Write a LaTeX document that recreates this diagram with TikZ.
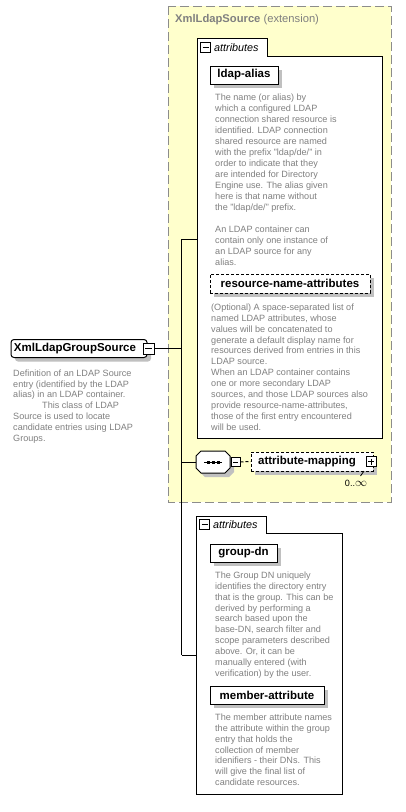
\documentclass[tikz,border=0pt]{standalone}
\usepackage{fontspec}
\setmainfont{Liberation Sans}
\usetikzlibrary{shadows}
\definecolor{ylw}{RGB}{255,255,204}
\definecolor{txtgray}{RGB}{128,128,128}
\definecolor{shd}{RGB}{192,192,192}
\definecolor{extborder}{RGB}{140,140,140}
\tikzset{
  desc/.style={anchor=north west, inner sep=0pt, align=left, text=txtgray,
    font=\fontsize{9.1}{10.9}\selectfont},
  shadowed/.style={drop shadow={shadow xshift=4pt, shadow yshift=-4pt, fill=shd, opacity=1}},
  attrbox/.style={draw, fill=white, line width=1pt, inner sep=0pt, shadowed,
    font=\fontsize{11.5}{13}\selectfont\bfseries},
  optbox/.style={attrbox, dash pattern=on 3pt off 2pt},
  lbltext/.style={inner sep=0pt, font=\fontsize{11.5}{13}\selectfont\bfseries},
  tabtext/.style={anchor=west, inner sep=0pt, font=\fontsize{10.8}{12}\selectfont\itshape},
  folder/.style={draw, fill=white, line width=1pt},
  conn/.style={draw, line width=1pt},
  mbox/.style={draw, fill=white, line width=1pt, minimum size=#1, inner sep=0pt,
    path picture={\draw[line width=1pt] ([xshift=2pt]path picture bounding box.west) -- ([xshift=-2pt]path picture bounding box.east);}},
  mbox/.default=10pt,
  pbox/.style={mbox=#1,
    path picture={\draw[line width=1pt] ([xshift=2pt]path picture bounding box.west) -- ([xshift=-2pt]path picture bounding box.east);
                  \draw[line width=1pt] ([yshift=-2pt]path picture bounding box.north) -- ([yshift=2pt]path picture bounding box.south);}},
  pbox/.default=10pt
}
\begin{document}
\begin{tikzpicture}[x=1pt,y=-1pt]
\useasboundingbox[fill=white] (0,0) rectangle (406,812);

% extension (yellow) region
\draw[fill=ylw, draw=extborder, line width=1pt, dash pattern=on 9pt off 4pt] (168,6) rectangle (391,502);
\node[anchor=west, inner sep=0pt, text=txtgray, font=\fontsize{11.2}{13}\selectfont] (exttitle) at (175,20)
  {\textbf{XmlLdapSource} (extension)};

% upper attributes folder
\draw[folder] (197,38) -- (267,38) -- (267,56) -- (382,56) -- (382,438) -- (197,438) -- cycle;
\node[mbox] (m1) at (205.5,47.5) {};
\node[tabtext] (tab1) at (214,47.5) {attributes};
\coordinate (a1w) at (197,239);

\node[attrbox, minimum width=68pt, minimum height=18pt] (ldapalias) at (244,75) {};
\node[lbltext] at (ldapalias) {ldap-alias};
\node[desc, font=\fontsize{9.1}{11}\selectfont] (d1) at (215,93.3) {The name (or alias) by\\
which a configured LDAP\\
connection shared resource is\\
identified. LDAP connection\\
shared resource are named\\
with the prefix "ldap/de/" in\\
order to indicate that they\\
are intended for Directory\\
Engine use. The alias given\\
here is that name without\\
the "ldap/de/" prefix.\\[11pt]
An LDAP container can\\
contain only one instance of\\
an LDAP source for any\\
alias.};

\node[optbox, minimum width=160pt, minimum height=19pt] (rna) at (290,283.5) {};
\node[lbltext] at (rna) {resource-name-attributes};
\node[desc] (d2) at (211,303.5) {(Optional) A space-separated list of\\
named LDAP attributes, whose\\
values will be concatenated to\\
generate a default display name for\\
resources derived from entries in this\\
LDAP source.\\
When an LDAP container contains\\
one or more secondary LDAP\\
sources, and those LDAP sources also\\
provide resource-name-attributes,\\
those of the first entry encountered\\
will be used.};

% sequence compositor
\fill[shd] (205,455) -- (229,455) -- (234,460) -- (234,472) -- (229,477) -- (205,477) -- (200,472) -- (200,460) -- cycle;
\draw[fill=white, line width=1pt] (201,451) -- (225,451) -- (230,456) -- (230,468) -- (225,473) -- (201,473) -- (196,468) -- (196,456) -- cycle;
\node[minimum width=34pt, minimum height=22pt, inner sep=0pt] (seq) at (213,462) {};
\draw[line width=1pt] (204,462) -- (222,462);
\foreach \dx in {208,213,218} \fill (\dx-1.5,460.5) rectangle (\dx+1.5,463.5);
\node[mbox=9pt] (seqm) at (235.5,462) {};

\node[optbox, minimum width=122pt, minimum height=19pt] (amap) at (312,461.5) {};
\node[lbltext] at (307,461.5) {attribute-mapping};
\node[pbox] (ampp) at (371,461.5) {};
\draw[line width=0.8pt] (364,471) -- (360.5,476);
\node[inner sep=0pt, font=\fontsize{9.1}{11}\selectfont] (card) at (356,483) {0..{\fontsize{12}{12}\selectfont$\infty$}};

% left root element
\node[draw, fill=white, line width=1pt, rounded corners=3pt, minimum width=136pt, minimum height=18pt, inner sep=0pt, shadowed] (lgs) at (79,348.5) {};
\node[lbltext] (lgst) at (75,348.5) {XmlLdapGroupSource};
\node[mbox=11pt] (lgsm) at (148.5,348.5) {};
\node[desc] (d0) at (13,369.3) {Definition of an LDAP Source\\
entry (identified by the LDAP\\
alias) in an LDAP container.\\
\hspace*{29pt}This class of LDAP\\
Source is used to locate\\
candidate entries using LDAP\\
Groups.};

% lower attributes folder
\draw[folder] (196,516) -- (266,516) -- (266,533) -- (342,533) -- (342,794) -- (196,794) -- cycle;
\node[mbox] (m2) at (204.5,524.5) {};
\node[tabtext] (tab2) at (213,524.5) {attributes};
\coordinate (a2w) at (196,655);

\node[attrbox, minimum width=67pt, minimum height=18pt] (gdn) at (243.5,553) {};
\node[lbltext] at (gdn) {group-dn};
\node[desc] (d3) at (215,571.5) {The Group DN uniquely\\
identifies the directory entry\\
that is the group. This can be\\
derived by performing a\\
search based upon the\\
base-DN, search filter and\\
scope parameters described\\
above. Or, it can be\\
manually entered (with\\
verification) by the user.};

\node[attrbox, minimum width=114pt, minimum height=18pt] (mattr) at (267,695) {};
\node[lbltext] at (mattr) {member-attribute};
\node[desc] (d4) at (215,713.5) {The member attribute names\\
the attribute within the group\\
entry that holds the\\
collection of member\\
idenifiers - their DNs. This\\
will give the final list of\\
candidate resources.};

% tree connectors
\coordinate (trunkTop) at (181.5,239);
\coordinate (trunkBot) at (181.5,655);
\coordinate (jmid) at (181.5,348.5);
\coordinate (jmap) at (181.5,462);
\draw[conn] (trunkTop) -- (trunkBot);
\draw[conn] (trunkTop) -- (a1w);
\draw[conn] (trunkBot) -- (a2w);
\draw[conn] (lgsm.east) -- (jmid);
\draw[conn] (jmap) -- (seq.west);
\draw[line width=1pt, dash pattern=on 3pt off 2pt] (seqm.east) -- (amap.west);
\end{tikzpicture}
\end{document}
